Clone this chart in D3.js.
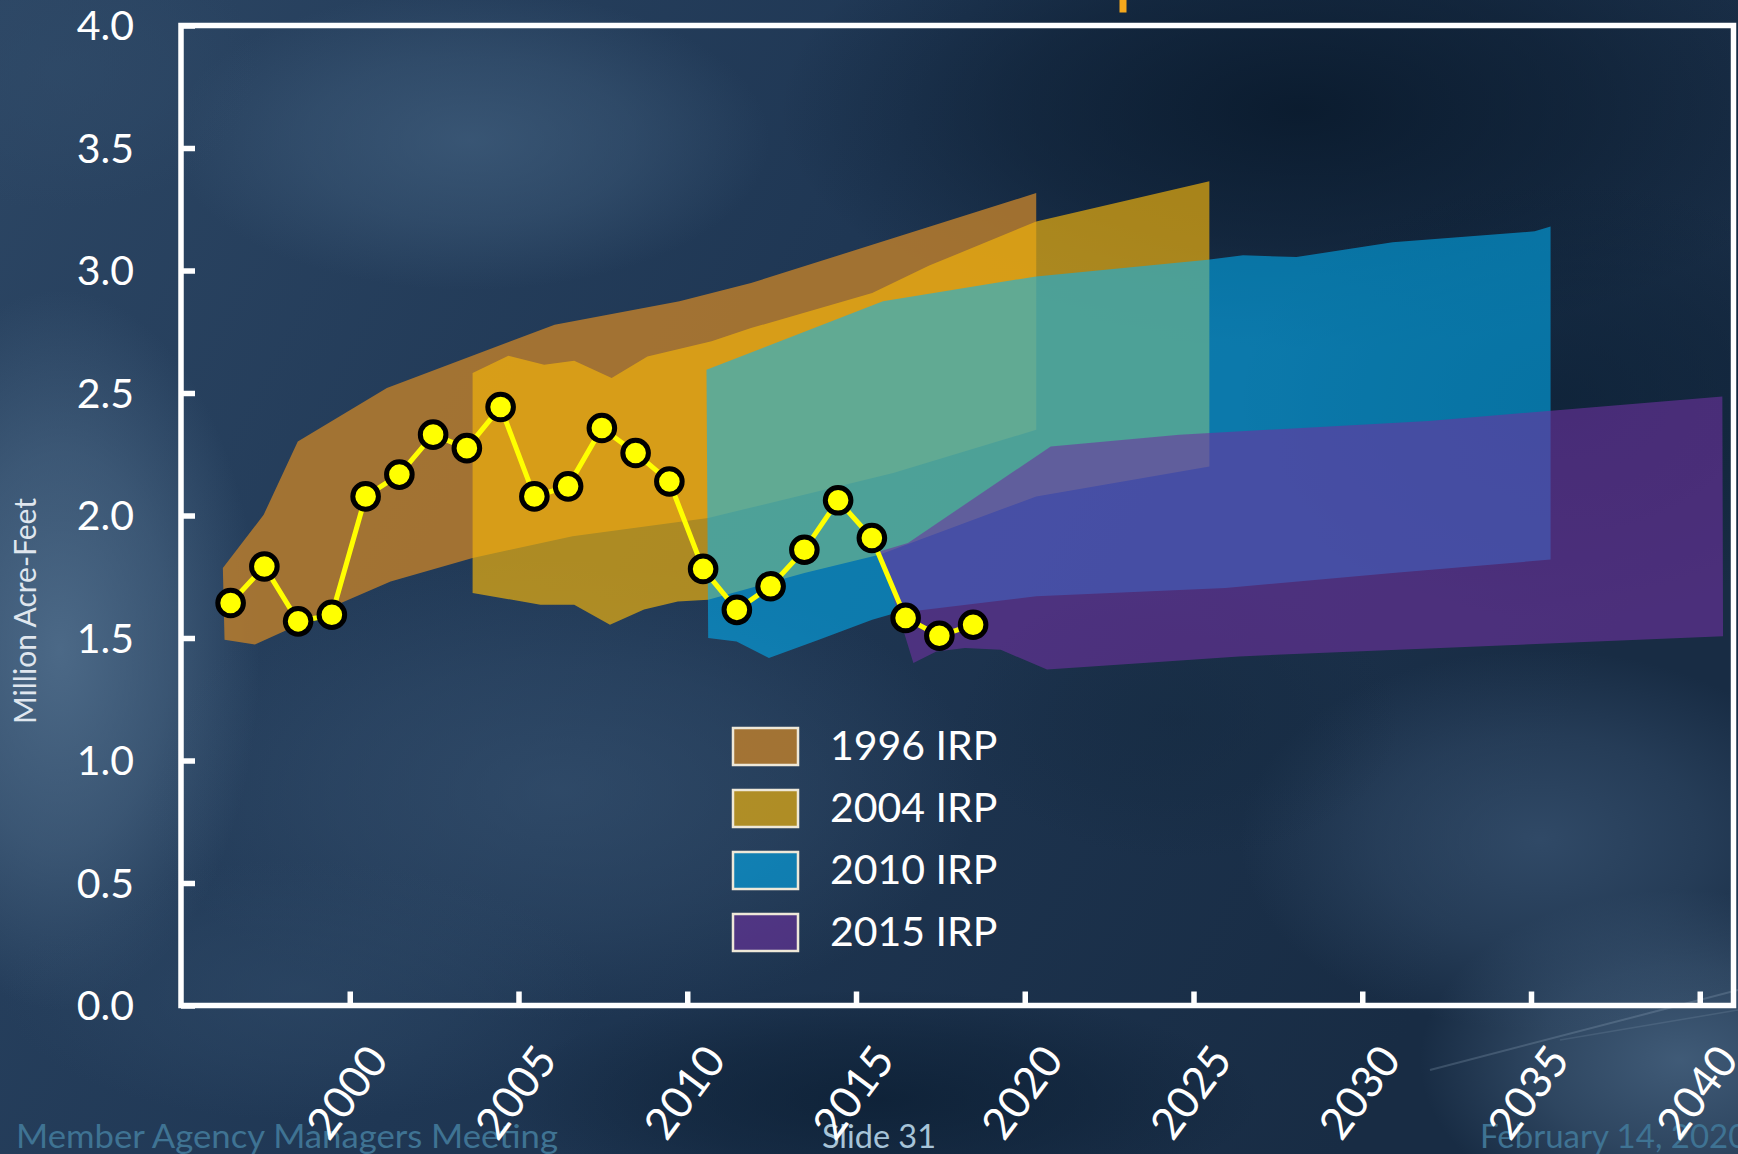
<!DOCTYPE html>
<html><head><meta charset="utf-8">
<script src="https://cdn.jsdelivr.net/npm/d3@7"></script>
<style>html,body{margin:0;padding:0;background:#1f3651;overflow:hidden}svg{display:block}</style>
</head><body><svg id="c" width="1738" height="1154"></svg>
<script>
// ---------------- DATA ----------------
const obsYears = [1996,1997,1998,1999,2000,2001,2002,2003,2004,2005,2006,2007,2008,2009,2010,2011,2012,2013,2014,2015,2016,2017,2018];
const obsValues = [1.643,1.792,1.568,1.595,2.078,2.167,2.330,2.275,2.443,2.078,2.119,2.357,2.255,2.139,1.782,1.615,1.711,1.860,2.062,1.908,1.582,1.509,1.554];

const irp1996Upper = [[1996.24,1.786],[1997.45,2.003],[1998.46,2.302],[2001.10,2.520],[2006.07,2.779],[2009.77,2.874],[2011.89,2.949],[2015.48,3.105],[2020.34,3.316]];
const irp1996Lower = [[1996.29,1.493],[1997.19,1.473],[1998.04,1.527],[1999.62,1.636],[2001.21,1.731],[2003.64,1.827],[2006.60,1.915],[2010.62,1.990],[2016.10,2.173],[2020.34,2.350]];

const irp2004Upper = [[2003.64,2.582],[2004.70,2.652],[2005.76,2.615],[2006.65,2.632],[2007.76,2.561],[2008.82,2.649],[2010.72,2.711],[2011.89,2.765],[2015.48,2.908],[2017.17,3.020],[2020.34,3.200],[2025.47,3.364]];
const irp2004Lower = [[2003.64,1.684],[2005.65,1.636],[2006.65,1.636],[2007.71,1.554],[2008.72,1.616],[2009.72,1.649],[2010.62,1.656],[2013.47,1.765],[2015.69,1.840],[2020.34,2.078],[2025.47,2.200]];

const irp2010Upper = [[2010.57,2.595],[2015.80,2.874],[2020.34,2.976],[2025.42,3.044],[2026.47,3.062],[2028.05,3.055],[2030.90,3.115],[2035.11,3.160],[2035.58,3.180]];
const irp2010Lower = [[2010.62,1.500],[2011.46,1.486],[2012.42,1.418],[2013.90,1.493],[2015.48,1.575],[2016.12,1.600],[2020.34,1.670],[2024.58,1.696],[2025.94,1.704],[2030.90,1.765],[2035.58,1.820]];

const irp2015Upper = [[2015.69,1.853],[2016.54,1.888],[2020.77,2.282],[2024.58,2.330],[2031.97,2.386],[2040.67,2.486]];
const irp2015Lower = [[2016.70,1.398],[2017.38,1.445],[2018.23,1.459],[2019.29,1.452],[2020.66,1.371],[2023.52,1.398],[2026.35,1.425],[2040.69,1.507]];

const legendLabels = ["1996 IRP","2004 IRP","2010 IRP","2015 IRP"];
const bandColors = ["rgb(185,125,45)","rgb(240,178,12)","rgb(0,180,250)","rgb(110,50,160)"];
const bandOpacity = [0.85,0.68,0.55,0.6];
const yTicks = [0,0.5,1,1.5,2,2.5,3,3.5,4];
const xTicks = [2000,2005,2010,2015,2020,2025,2030,2035,2040];
const yTitle = "Million Acre-Feet";
const footerLeft = "Member Agency Managers Meeting";
const footerMid = "Slide 31";
const footerRight = "February 14, 2020";

// ---------------- DRAW ----------------
const W = 1738, H = 1154;
const svg = d3.select("#c");
const defs = svg.append("defs");
const FONT = "Lato, 'Open Sans', sans-serif";

// background: base gradient + soft radial patches
const bgGrad = defs.append("linearGradient").attr("id","bgg").attr("x1",0).attr("y1",0).attr("x2",1).attr("y2",0.35);
bgGrad.append("stop").attr("offset",0).attr("stop-color","#2c4664");
bgGrad.append("stop").attr("offset",0.5).attr("stop-color","#1f3754");
bgGrad.append("stop").attr("offset",1).attr("stop-color","#182c44");
svg.append("rect").attr("width",W).attr("height",H).attr("fill","url(#bgg)");
const blobs = [
  [60,650,200,360,"#52708e",0.85],
  [470,140,300,150,"#3f5d7c",0.75],
  [1300,110,520,240,"#08182a",0.85],
  [1560,400,320,220,"#0b1f34",0.65],
  [880,1100,380,110,"#0c1f34",0.8],
  [1680,1060,260,170,"#4d6a88",0.75],
  [560,790,420,230,"#395574",0.6],
  [1540,840,300,190,"#3d5979",0.65],
  [1180,720,220,140,"#14293f",0.5],
  [300,990,300,130,"#2f4a68",0.6],
  [60,70,200,140,"#304b69",0.6]
];
blobs.forEach((b,i)=>{
  const g = defs.append("radialGradient").attr("id","rg"+i);
  g.append("stop").attr("offset",0).attr("stop-color",b[4]).attr("stop-opacity",b[5]);
  g.append("stop").attr("offset",0.55).attr("stop-color",b[4]).attr("stop-opacity",b[5]*0.55);
  g.append("stop").attr("offset",1).attr("stop-color",b[4]).attr("stop-opacity",0);
  svg.append("ellipse").attr("cx",b[0]).attr("cy",b[1]).attr("rx",b[2]).attr("ry",b[3]).attr("fill",`url(#rg${i})`);
});
// faint light streaks bottom right
svg.append("line").attr("x1",1430).attr("y1",1070).attr("x2",1738).attr("y2",990).attr("stroke","#a9bfd3").attr("stroke-width",2).attr("opacity",0.22);
svg.append("line").attr("x1",1560).attr("y1",1040).attr("x2",1738).attr("y2",1010).attr("stroke","#a9bfd3").attr("stroke-width",1.5).attr("opacity",0.15);

// orange title mark
svg.append("rect").attr("x",1119.5).attr("y",0).attr("width",7).attr("height",12.5).attr("fill","#f5a81c");

const x = d3.scaleLinear().domain([1995,2041]).range([181,1733.5]);
const y = d3.scaleLinear().domain([0,4]).range([1005.5,25.5]);

// footer
svg.append("text").attr("x",16).attr("y",1148).attr("font-family",FONT).attr("font-size",33)
  .attr("fill","#3f7393").attr("textLength",542).attr("lengthAdjust","spacingAndGlyphs").text(footerLeft);
svg.append("text").attr("x",822).attr("y",1148).attr("font-family",FONT).attr("font-size",33)
  .attr("fill","#a7c4d8").attr("textLength",114).attr("lengthAdjust","spacingAndGlyphs").text(footerMid);
svg.append("text").attr("x",1480).attr("y",1148).attr("font-family",FONT).attr("font-size",33)
  .attr("fill","#3f7393").text(footerRight);

// bands
const poly = d3.line().x(d=>x(d[0])).y(d=>y(d[1])).curve(d3.curveLinearClosed);
const bands = [
  [irp1996Upper, irp1996Lower],
  [irp2004Upper, irp2004Lower],
  [irp2010Upper, irp2010Lower],
  [irp2015Upper, irp2015Lower]
];
const bandG = svg.append("g");
bands.forEach((b,i)=>{
  const pts = b[0].concat(b[1].slice().reverse());
  bandG.append("path").attr("d",poly(pts)).attr("fill",bandColors[i]).attr("fill-opacity",bandOpacity[i]);
});

// observed line
const midYear = 0.47;
const obs = obsYears.map((yr,i)=>[yr+midYear, obsValues[i]]);
svg.append("path").attr("d",d3.line().x(d=>x(d[0])).y(d=>y(d[1]))(obs))
  .attr("fill","none").attr("stroke","#ffff00").attr("stroke-width",5);
svg.append("g").selectAll("circle").data(obs).join("circle")
  .attr("cx",d=>x(d[0])).attr("cy",d=>y(d[1])).attr("r",12.8)
  .attr("fill","#ffff00").attr("stroke","#000").attr("stroke-width",5);

// frame
svg.append("rect").attr("x",x(1995)).attr("y",y(4)).attr("width",x(2041)-x(1995)).attr("height",y(0)-y(4))
  .attr("fill","none").attr("stroke","#fff").attr("stroke-width",5.5);

// y axis (ticks inward)
const yAxis = svg.append("g").attr("transform",`translate(${x(1995)},0)`)
  .call(d3.axisRight(y).tickValues(yTicks).tickSize(14).tickFormat(""));
yAxis.select(".domain").remove();
yAxis.selectAll("line").attr("stroke","#fff").attr("stroke-width",5.5);
svg.append("g").selectAll("text").data(yTicks).join("text")
  .attr("x",134).attr("y",d=>y(d)).attr("dy","0.36em").attr("text-anchor","end")
  .attr("font-family",FONT).attr("font-size",41).attr("fill","#fff").text(d3.format(".1f"));

// x axis (ticks inward)
const xAxis = svg.append("g").attr("transform",`translate(0,${y(0)})`)
  .call(d3.axisTop(x).tickValues(xTicks).tickSize(14).tickFormat(""));
xAxis.select(".domain").remove();
xAxis.selectAll("line").attr("stroke","#fff").attr("stroke-width",5.5);
svg.append("g").selectAll("text").data(xTicks).join("text")
  .attr("transform",d=>`translate(${x(d)-3},1092) rotate(-53.5)`)
  .attr("text-anchor","middle").attr("dy","0.36em")
  .attr("font-family",FONT).attr("font-size",44).attr("fill","#fff").text(d=>d);

// y title
svg.append("text").attr("transform","translate(36,611) rotate(-90)").attr("text-anchor","middle")
  .attr("font-family",FONT).attr("font-size",30).attr("fill","#dfe6ee").text(yTitle);

// legend
const lg = svg.append("g");
legendLabels.forEach((lab,i)=>{
  const top = 728 + i*62;
  lg.append("rect").attr("x",733).attr("y",top).attr("width",65).attr("height",37)
    .attr("fill",bandColors[i]).attr("fill-opacity",bandOpacity[i]).attr("stroke","#eee8d8").attr("stroke-width",2.5);
  lg.append("text").attr("x",830).attr("y",top+31.5).attr("font-family",FONT).attr("font-size",41)
    .attr("fill","#fff").text(lab);
});
</script></body></html>
